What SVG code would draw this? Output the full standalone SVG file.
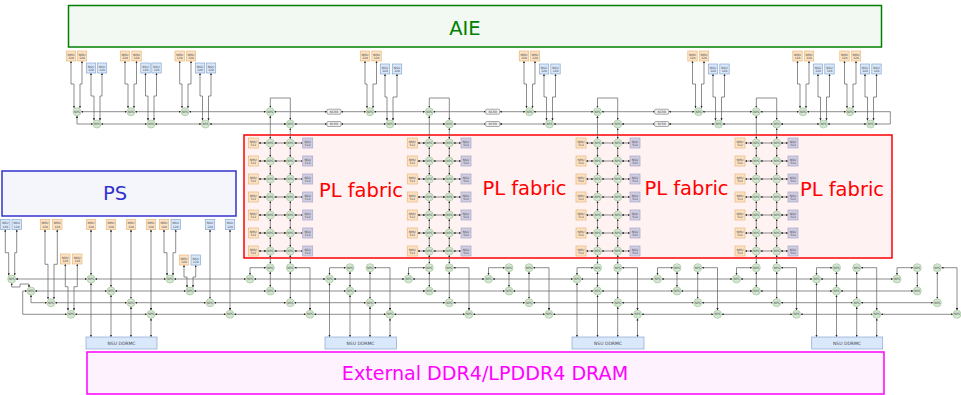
<svg xmlns="http://www.w3.org/2000/svg" width="961" height="395" viewBox="0 0 961 395">
<style>
text{font-family:"DejaVu Sans",sans-serif;text-anchor:middle;font-size:3px;fill:#444}
.big{font-size:19.5px}
.m{fill:#fde3c6;stroke:#e8b87a;stroke-width:.7}
.s{fill:#dae8fc;stroke:#8aa6cf;stroke-width:.7}
.f{fill:#d0cee2;stroke:#a9a6c8;stroke-width:.7}
.d{fill:#dae8fc;stroke:#8aa6cf;stroke-width:.7}
.b{fill:#f0f0f0;stroke:#888;stroke-width:.7}
circle{fill:#d5e8d4;stroke:#a3c49a;stroke-width:.7}
#c path{fill:none;stroke:#5c5c5c;stroke-width:.7;marker-start:url(#a);marker-end:url(#a)}
</style>
<defs><marker id="a" viewBox="0 0 4 4" refX="4" refY="2" markerWidth="2.2" markerHeight="2.2" markerUnits="userSpaceOnUse" orient="auto-start-reverse"><path d="M0 0L4 2L0 4z" fill="#222"/></marker></defs>
<rect width="961" height="395" fill="#fff"/>
<g id="aie"><rect x="68.500" y="5.500" width="813" height="41.500" fill="#f2f9f2" stroke="#008000" stroke-width="1.500"/><text class="big" x="465" y="34.500" style="fill:#008000">AIE</text></g>
<g id="ps"><rect x="2" y="171" width="234" height="45" fill="#f5f6fb" stroke="#3333cc" stroke-width="1.500"/><text class="big" x="115" y="200" style="fill:#3333cc">PS</text></g>
<g id="dram"><rect x="87" y="352" width="797" height="42" fill="#fff2ff" stroke="#ff00ff" stroke-width="1.500"/><text x="485" y="379.500" style="fill:#ff00ff;font-size:19.100px">External DDR4/LPDDR4 DRAM</text></g>
<g id="pl"><rect x="244" y="135" width="648" height="123" fill="#fff2f2" stroke="#ff0000" stroke-width="1.500"/><text class="big" x="361" y="197" style="fill:#ff0000">PL fabric</text><text class="big" x="524.500" y="195" style="fill:#ff0000">PL fabric</text><text class="big" x="686.500" y="195" style="fill:#ff0000">PL fabric</text><text class="big" x="842" y="196" style="fill:#ff0000">PL fabric</text></g>
<g id="c">
<path d="M71 61V84H74V108"/><path d="M82 61V84H80V108"/><path d="M91 73V96H94V120.500"/><path d="M102 73V96H100V120.500"/>
<path d="M125 61V84H128V108"/><path d="M136.500 61V84H134V108"/><path d="M145.500 73V96H148V120.500"/><path d="M156.500 73V96H154V120.500"/>
<path d="M179.700 61V84H182V108"/><path d="M191 61V84H188V108"/><path d="M200 73V96H202.500V120.500"/><path d="M211 73V96H208.500V120.500"/>
<path d="M365 61V84H367V108"/><path d="M376.500 61V84H373V108"/><path d="M385 74V97H387V120.500"/><path d="M397 74V97H393V120.500"/>
<path d="M524 61V84H526.500V108"/><path d="M535 61V84H532.500V108"/><path d="M544 74V97H546.500V120.500"/><path d="M555.500 74V97H552.500V120.500"/>
<path d="M692.500 61V84H695.500V108"/><path d="M704 61V84H701.500V108"/><path d="M713 74V97H715.500V120.500"/><path d="M724.500 74V97H721.500V120.500"/>
<path d="M797.500 61V84H800V108"/><path d="M809 61V84H806V108"/><path d="M818 74V97H820.500V120.500"/><path d="M829.500 74V97H826.500V120.500"/>
<path d="M844.500 61V84H847V108"/><path d="M856 61V84H853V108"/><path d="M865 74V97H867.500V120.500"/><path d="M876.500 74V97H873.500V120.500"/>
<path d="M81 111.700H127"/><path d="M135 111.700H181"/><path d="M189 111.700H266"/><path d="M274 111.700H327"/><path d="M341 111.700H366"/><path d="M374 111.700H425"/><path d="M433 111.700H485.700"/><path d="M499.700 111.700H525.500"/><path d="M533.500 111.700H593.500"/><path d="M601.500 111.700H654.700"/><path d="M668.700 111.700H694.500"/><path d="M702.500 111.700H752.300"/><path d="M760.300 111.700H799"/><path d="M807 111.700H846"/><path d="M854 111.700H890.300V124H874.500"/>
<path d="M101 124H147"/><path d="M155 124H201.500"/><path d="M209.500 124H286.300"/><path d="M294.300 124H327"/><path d="M341 124H386"/><path d="M394 124H445.300"/><path d="M453.300 124H485.700"/><path d="M499.700 124H545.500"/><path d="M553.500 124H613.700"/><path d="M621.700 124H654.700"/><path d="M668.700 124H714.500"/><path d="M722.500 124H772.700"/><path d="M780.700 124H819.500"/><path d="M827.500 124H866.500"/>
<path d="M77 115.700V124H93"/>
<path d="M270.300 107.700V98H290.300V120"/><path d="M429.300 107.700V98H449.300V120"/><path d="M597.500 107.700V98H617.700V120"/><path d="M756.300 107.700V98H776.700V120"/>
<path d="M270.300 115.700V139"/><path d="M290.300 128V139"/><path d="M429.300 115.700V139"/><path d="M449.300 128V139"/><path d="M597.500 115.700V139"/><path d="M617.700 128V139"/><path d="M756.300 115.700V139"/><path d="M776.700 128V139"/>
<path d="M270.300 147V157"/><path d="M270.300 165V175"/><path d="M270.300 183V193"/><path d="M270.300 201V211"/><path d="M270.300 219V229"/><path d="M270.300 237V247"/><path d="M270.300 255V263.700"/><path d="M270.300 271.700V287"/>
<path d="M290.300 147V157"/><path d="M290.300 165V175"/><path d="M290.300 183V193"/><path d="M290.300 201V211"/><path d="M290.300 219V229"/><path d="M290.300 237V247"/><path d="M290.300 255V263.700"/><path d="M290.300 271.700V298.700"/>
<path d="M429.300 147V157"/><path d="M429.300 165V175"/><path d="M429.300 183V193"/><path d="M429.300 201V211"/><path d="M429.300 219V229"/><path d="M429.300 237V247"/><path d="M429.300 255V263.700"/><path d="M429.300 271.700V287"/>
<path d="M449.300 147V157"/><path d="M449.300 165V175"/><path d="M449.300 183V193"/><path d="M449.300 201V211"/><path d="M449.300 219V229"/><path d="M449.300 237V247"/><path d="M449.300 255V263.700"/><path d="M449.300 271.700V298.700"/>
<path d="M597.500 147V157"/><path d="M597.500 165V175"/><path d="M597.500 183V193"/><path d="M597.500 201V211"/><path d="M597.500 219V229"/><path d="M597.500 237V247"/><path d="M597.500 255V263.700"/><path d="M597.500 271.700V287"/>
<path d="M617.700 147V157"/><path d="M617.700 165V175"/><path d="M617.700 183V193"/><path d="M617.700 201V211"/><path d="M617.700 219V229"/><path d="M617.700 237V247"/><path d="M617.700 255V263.700"/><path d="M617.700 271.700V298.700"/>
<path d="M756.300 147V157"/><path d="M756.300 165V175"/><path d="M756.300 183V193"/><path d="M756.300 201V211"/><path d="M756.300 219V229"/><path d="M756.300 237V247"/><path d="M756.300 255V263.700"/><path d="M756.300 271.700V287"/>
<path d="M776.700 147V157"/><path d="M776.700 165V175"/><path d="M776.700 183V193"/><path d="M776.700 201V211"/><path d="M776.700 219V229"/><path d="M776.700 237V247"/><path d="M776.700 255V263.700"/><path d="M776.700 271.700V298.700"/>
<path d="M258.500 143H266.300"/><path d="M274.300 143H286.300"/><path d="M294.300 143H302.700"/><path d="M258.500 161H266.300"/><path d="M274.300 161H286.300"/><path d="M294.300 161H302.700"/><path d="M258.500 179H266.300"/><path d="M274.300 179H286.300"/><path d="M294.300 179H302.700"/><path d="M258.500 197H266.300"/><path d="M274.300 197H286.300"/><path d="M294.300 197H302.700"/><path d="M258.500 215H266.300"/><path d="M274.300 215H286.300"/><path d="M294.300 215H302.700"/><path d="M258.500 233H266.300"/><path d="M274.300 233H286.300"/><path d="M294.300 233H302.700"/><path d="M258.500 251H266.300"/><path d="M274.300 251H286.300"/><path d="M294.300 251H302.700"/>
<path d="M417.500 143H425.300"/><path d="M433.300 143H445.300"/><path d="M453.300 143H461"/><path d="M417.500 161H425.300"/><path d="M433.300 161H445.300"/><path d="M453.300 161H461"/><path d="M417.500 179H425.300"/><path d="M433.300 179H445.300"/><path d="M453.300 179H461"/><path d="M417.500 197H425.300"/><path d="M433.300 197H445.300"/><path d="M453.300 197H461"/><path d="M417.500 215H425.300"/><path d="M433.300 215H445.300"/><path d="M453.300 215H461"/><path d="M417.500 233H425.300"/><path d="M433.300 233H445.300"/><path d="M453.300 233H461"/><path d="M417.500 251H425.300"/><path d="M433.300 251H445.300"/><path d="M453.300 251H461"/>
<path d="M586 143H593.500"/><path d="M601.500 143H613.700"/><path d="M621.700 143H630"/><path d="M586 161H593.500"/><path d="M601.500 161H613.700"/><path d="M621.700 161H630"/><path d="M586 179H593.500"/><path d="M601.500 179H613.700"/><path d="M621.700 179H630"/><path d="M586 197H593.500"/><path d="M601.500 197H613.700"/><path d="M621.700 197H630"/><path d="M586 215H593.500"/><path d="M601.500 215H613.700"/><path d="M621.700 215H630"/><path d="M586 233H593.500"/><path d="M601.500 233H613.700"/><path d="M621.700 233H630"/><path d="M586 251H593.500"/><path d="M601.500 251H613.700"/><path d="M621.700 251H630"/>
<path d="M745 143H752.300"/><path d="M760.300 143H772.700"/><path d="M780.700 143H788"/><path d="M745 161H752.300"/><path d="M760.300 161H772.700"/><path d="M780.700 161H788"/><path d="M745 179H752.300"/><path d="M760.300 179H772.700"/><path d="M780.700 179H788"/><path d="M745 197H752.300"/><path d="M760.300 197H772.700"/><path d="M780.700 197H788"/><path d="M745 215H752.300"/><path d="M760.300 215H772.700"/><path d="M780.700 215H788"/><path d="M745 233H752.300"/><path d="M760.300 233H772.700"/><path d="M780.700 233H788"/><path d="M745 251H752.300"/><path d="M760.300 251H772.700"/><path d="M780.700 251H788"/>
<path d="M266.300 267.700H250V275"/><path d="M294.300 267.700H310V310.300"/>
<path d="M346 267.700H329.500V275"/><path d="M374 267.700H390V310.300"/><path d="M350 271.700V287"/><path d="M370 271.700V298.700"/>
<path d="M425.300 267.700H408.500V275"/><path d="M453.300 267.700H469V310.300"/>
<path d="M505 267.700H488.500V275"/><path d="M533 267.700H549V310.300"/><path d="M509 271.700V287"/><path d="M529 271.700V298.700"/>
<path d="M593.500 267.700H577V275"/><path d="M621.700 267.700H637.500V310.300"/>
<path d="M673 267.700H657.500V275"/><path d="M701.700 267.700H717.500V310.300"/><path d="M677 271.700V287"/><path d="M697.700 271.700V298.700"/>
<path d="M752.300 267.700H736.500V275"/><path d="M780.700 267.700H796.500V310.300"/>
<path d="M832.500 267.700H816.500V275"/><path d="M860.700 267.700H876.700V310.300"/><path d="M836.500 271.700V287"/><path d="M856.700 271.700V298.700"/>
<path d="M913.300 267.700H897V275"/><path d="M941.300 267.700H957V310.300"/><path d="M917.300 271.700V287"/><path d="M937.300 271.700V298.700"/>
<path d="M15.700 279H87"/><path d="M95 279H166"/><path d="M174 279H246"/><path d="M254 279H325.500"/><path d="M333.500 279H404.500"/><path d="M412.500 279H484.500"/><path d="M492.500 279H573"/><path d="M581 279H653.500"/><path d="M661.500 279H732.500"/><path d="M740.500 279H812.500"/><path d="M820.500 279H893"/>
<path d="M35 291H107"/><path d="M115 291H186"/><path d="M194 291H266"/><path d="M274 291H346"/><path d="M354 291H425.300"/><path d="M433.300 291H505"/><path d="M513 291H593.500"/><path d="M601.500 291H673"/><path d="M681 291H752.300"/><path d="M760.300 291H832.500"/><path d="M840.500 291H913.300"/>
<path d="M55 302.700H127"/><path d="M135 302.700H206"/><path d="M214 302.700H286"/><path d="M294 302.700H366"/><path d="M374 302.700H445.300"/><path d="M453.300 302.700H525"/><path d="M533 302.700H613.700"/><path d="M621.700 302.700H693.700"/><path d="M701.700 302.700H772.700"/><path d="M780.700 302.700H852.700"/><path d="M860.700 302.700H933.300"/>
<path d="M75 314.300H147"/><path d="M155 314.300H226"/><path d="M234 314.300H306"/><path d="M314 314.300H386"/><path d="M394 314.300H465"/><path d="M473 314.300H545"/><path d="M553 314.300H633.500"/><path d="M641.500 314.300H713.500"/><path d="M721.500 314.300H792.500"/><path d="M800.500 314.300H872.700"/><path d="M880.700 314.300H953"/>
<path d="M11.700 283V287H20V284H29V287.500"/><path d="M27 291H22.700V314.300H67"/><path d="M31 295V302.700H47"/>
<path d="M5.300 229.500V252.700H8.700V275.500"/><path d="M16.700 229.500V252.700H14.700V275.500"/><path d="M45 229.500V264.300H48V299"/><path d="M57.300 229.500V264.300H54V299"/>
<path d="M65.300 264V286.700H68V310.500"/><path d="M77.300 264V286.700H74V310.500"/><path d="M164 229.500V252.700H167V275.500"/><path d="M175.700 229.500V252.700H173V275.500"/>
<path d="M184 265V277H187V287.500"/><path d="M195.700 265V277H193V287.500"/>
<path d="M91 229.500V275"/><path d="M111 229.500V287"/><path d="M131 229.500V298.700"/><path d="M151 229.500V310.300"/><path d="M210 229.500V298.700"/><path d="M230 229.500V310.300"/>
<path d="M91 283V337"/><path d="M111 295V337"/><path d="M131 306.700V337"/><path d="M151 318.300V337"/>
<path d="M329.500 283V337"/><path d="M350 295V337"/><path d="M370 306.700V337"/><path d="M390 318.300V337"/>
<path d="M577 283V337"/><path d="M597.500 295V337"/><path d="M617.700 306.700V337"/><path d="M637.500 318.300V337"/>
<path d="M816.500 283V337"/><path d="M836.500 295V337"/><path d="M856.700 306.700V337"/><path d="M876.700 318.300V337"/>
</g>
<g id="ncrb1a" transform="translate(334 111.700)"><rect class="b" x="-7" y="-2.500" width="14" height="5" rx="1"/><text y="1">NCRB</text></g>
<g id="ncrb1b" transform="translate(334 124)"><rect class="b" x="-7" y="-2.500" width="14" height="5" rx="1"/><text y="1">NCRB</text></g>
<g id="ncrb2a" transform="translate(492.700 111.700)"><rect class="b" x="-7" y="-2.500" width="14" height="5" rx="1"/><text y="1">NCRB</text></g>
<g id="ncrb2b" transform="translate(492.700 124)"><rect class="b" x="-7" y="-2.500" width="14" height="5" rx="1"/><text y="1">NCRB</text></g>
<g id="ncrb3a" transform="translate(661.700 111.700)"><rect class="b" x="-7" y="-2.500" width="14" height="5" rx="1"/><text y="1">NCRB</text></g>
<g id="ncrb3b" transform="translate(661.700 124)"><rect class="b" x="-7" y="-2.500" width="14" height="5" rx="1"/><text y="1">NCRB</text></g>
<g id="ddr1"><rect class="d" x="86" y="337" width="71" height="12"/><text x="121.500" y="344.500" style="font-size:4.500px">NSU DDRMC</text></g>
<g id="ddr2"><rect class="d" x="325" y="337" width="71.500" height="12"/><text x="360.500" y="344.500" style="font-size:4.500px">NSU DDRMC</text></g>
<g id="ddr3"><rect class="d" x="572" y="337" width="72" height="12"/><text x="608" y="344.500" style="font-size:4.500px">NSU DDRMC</text></g>
<g id="ddr4"><rect class="d" x="811.700" y="337" width="71" height="12"/><text x="847" y="344.500" style="font-size:4.500px">NSU DDRMC</text></g>
<g id="tm1" transform="translate(71 56)"><rect class="m" x="-4.700" y="-5" width="9.400" height="10"/><text y="-.500">NMU</text><text y="3">128</text></g>
<g id="tm2" transform="translate(82 56)"><rect class="m" x="-4.700" y="-5" width="9.400" height="10"/><text y="-.500">NMU</text><text y="3">128</text></g>
<g id="ts1" transform="translate(91 68)"><rect class="s" x="-4.700" y="-5" width="9.400" height="10"/><text y="-.500">NSU</text><text y="3">128</text></g>
<g id="ts2" transform="translate(102 68)"><rect class="s" x="-4.700" y="-5" width="9.400" height="10"/><text y="-.500">NSU</text><text y="3">128</text></g>
<g id="tm3" transform="translate(125 56)"><rect class="m" x="-4.700" y="-5" width="9.400" height="10"/><text y="-.500">NMU</text><text y="3">128</text></g>
<g id="tm4" transform="translate(136.500 56)"><rect class="m" x="-4.700" y="-5" width="9.400" height="10"/><text y="-.500">NMU</text><text y="3">128</text></g>
<g id="ts3" transform="translate(145.500 68)"><rect class="s" x="-4.700" y="-5" width="9.400" height="10"/><text y="-.500">NSU</text><text y="3">128</text></g>
<g id="ts4" transform="translate(156.500 68)"><rect class="s" x="-4.700" y="-5" width="9.400" height="10"/><text y="-.500">NSU</text><text y="3">128</text></g>
<g id="tm5" transform="translate(179.700 56)"><rect class="m" x="-4.700" y="-5" width="9.400" height="10"/><text y="-.500">NMU</text><text y="3">128</text></g>
<g id="tm6" transform="translate(191 56)"><rect class="m" x="-4.700" y="-5" width="9.400" height="10"/><text y="-.500">NMU</text><text y="3">128</text></g>
<g id="ts5" transform="translate(200 68)"><rect class="s" x="-4.700" y="-5" width="9.400" height="10"/><text y="-.500">NSU</text><text y="3">128</text></g>
<g id="ts6" transform="translate(211 68)"><rect class="s" x="-4.700" y="-5" width="9.400" height="10"/><text y="-.500">NSU</text><text y="3">128</text></g>
<g id="tm7" transform="translate(365 56)"><rect class="m" x="-4.700" y="-5" width="9.400" height="10"/><text y="-.500">NMU</text><text y="3">128</text></g>
<g id="tm8" transform="translate(376.500 56)"><rect class="m" x="-4.700" y="-5" width="9.400" height="10"/><text y="-.500">NMU</text><text y="3">128</text></g>
<g id="ts7" transform="translate(385 69)"><rect class="s" x="-4.700" y="-5" width="9.400" height="10"/><text y="-.500">NSU</text><text y="3">128</text></g>
<g id="ts8" transform="translate(397 69)"><rect class="s" x="-4.700" y="-5" width="9.400" height="10"/><text y="-.500">NSU</text><text y="3">128</text></g>
<g id="tm9" transform="translate(524 56)"><rect class="m" x="-4.700" y="-5" width="9.400" height="10"/><text y="-.500">NMU</text><text y="3">128</text></g>
<g id="tm10" transform="translate(535 56)"><rect class="m" x="-4.700" y="-5" width="9.400" height="10"/><text y="-.500">NMU</text><text y="3">128</text></g>
<g id="ts9" transform="translate(544 69)"><rect class="s" x="-4.700" y="-5" width="9.400" height="10"/><text y="-.500">NSU</text><text y="3">128</text></g>
<g id="ts10" transform="translate(555.500 69)"><rect class="s" x="-4.700" y="-5" width="9.400" height="10"/><text y="-.500">NSU</text><text y="3">128</text></g>
<g id="tm11" transform="translate(692.500 56)"><rect class="m" x="-4.700" y="-5" width="9.400" height="10"/><text y="-.500">NMU</text><text y="3">128</text></g>
<g id="tm12" transform="translate(704 56)"><rect class="m" x="-4.700" y="-5" width="9.400" height="10"/><text y="-.500">NMU</text><text y="3">128</text></g>
<g id="ts11" transform="translate(713 69)"><rect class="s" x="-4.700" y="-5" width="9.400" height="10"/><text y="-.500">NSU</text><text y="3">128</text></g>
<g id="ts12" transform="translate(724.500 69)"><rect class="s" x="-4.700" y="-5" width="9.400" height="10"/><text y="-.500">NSU</text><text y="3">128</text></g>
<g id="tm13" transform="translate(797.500 56)"><rect class="m" x="-4.700" y="-5" width="9.400" height="10"/><text y="-.500">NMU</text><text y="3">128</text></g>
<g id="tm14" transform="translate(809 56)"><rect class="m" x="-4.700" y="-5" width="9.400" height="10"/><text y="-.500">NMU</text><text y="3">128</text></g>
<g id="ts13" transform="translate(818 69)"><rect class="s" x="-4.700" y="-5" width="9.400" height="10"/><text y="-.500">NSU</text><text y="3">128</text></g>
<g id="ts14" transform="translate(829.500 69)"><rect class="s" x="-4.700" y="-5" width="9.400" height="10"/><text y="-.500">NSU</text><text y="3">128</text></g>
<g id="tm15" transform="translate(844.500 56)"><rect class="m" x="-4.700" y="-5" width="9.400" height="10"/><text y="-.500">NMU</text><text y="3">128</text></g>
<g id="tm16" transform="translate(856 56)"><rect class="m" x="-4.700" y="-5" width="9.400" height="10"/><text y="-.500">NMU</text><text y="3">128</text></g>
<g id="ts15" transform="translate(865 69)"><rect class="s" x="-4.700" y="-5" width="9.400" height="10"/><text y="-.500">NSU</text><text y="3">128</text></g>
<g id="ts16" transform="translate(876.500 69)"><rect class="s" x="-4.700" y="-5" width="9.400" height="10"/><text y="-.500">NSU</text><text y="3">128</text></g>
<g id="bs1" transform="translate(5.300 224.500)"><rect class="s" x="-4.700" y="-5" width="9.400" height="10"/><text y="-.500">NSU</text><text y="3">128</text></g>
<g id="bs2" transform="translate(16.700 224.500)"><rect class="s" x="-4.700" y="-5" width="9.400" height="10"/><text y="-.500">NSU</text><text y="3">128</text></g>
<g id="bm1" transform="translate(45 224.500)"><rect class="m" x="-4.700" y="-5" width="9.400" height="10"/><text y="-.500">NMU</text><text y="3">128</text></g>
<g id="bm2" transform="translate(57.300 224.500)"><rect class="m" x="-4.700" y="-5" width="9.400" height="10"/><text y="-.500">NMU</text><text y="3">128</text></g>
<g id="bm3" transform="translate(91 224.500)"><rect class="m" x="-4.700" y="-5" width="9.400" height="10"/><text y="-.500">NMU</text><text y="3">128</text></g>
<g id="bm4" transform="translate(111 224.500)"><rect class="m" x="-4.700" y="-5" width="9.400" height="10"/><text y="-.500">NMU</text><text y="3">128</text></g>
<g id="bm5" transform="translate(131 224.500)"><rect class="m" x="-4.700" y="-5" width="9.400" height="10"/><text y="-.500">NMU</text><text y="3">128</text></g>
<g id="bm6" transform="translate(151 224.500)"><rect class="m" x="-4.700" y="-5" width="9.400" height="10"/><text y="-.500">NMU</text><text y="3">128</text></g>
<g id="bm7" transform="translate(164 224.500)"><rect class="m" x="-4.700" y="-5" width="9.400" height="10"/><text y="-.500">NMU</text><text y="3">128</text></g>
<g id="bs3" transform="translate(175.700 224.500)"><rect class="s" x="-4.700" y="-5" width="9.400" height="10"/><text y="-.500">NSU</text><text y="3">128</text></g>
<g id="bs4" transform="translate(210 224.500)"><rect class="s" x="-4.700" y="-5" width="9.400" height="10"/><text y="-.500">NSU</text><text y="3">128</text></g>
<g id="bs5" transform="translate(230 224.500)"><rect class="s" x="-4.700" y="-5" width="9.400" height="10"/><text y="-.500">NSU</text><text y="3">128</text></g>
<g id="bm8" transform="translate(65.300 259)"><rect class="m" x="-4.700" y="-5" width="9.400" height="10"/><text y="-.500">NMU</text><text y="3">128</text></g>
<g id="bm9" transform="translate(77.300 259)"><rect class="m" x="-4.700" y="-5" width="9.400" height="10"/><text y="-.500">NMU</text><text y="3">128</text></g>
<g id="bm10" transform="translate(184 260)"><rect class="m" x="-4.700" y="-5" width="9.400" height="10"/><text y="-.500">NMU</text><text y="3">128</text></g>
<g id="bs6" transform="translate(195.700 260)"><rect class="s" x="-4.700" y="-5" width="9.400" height="10"/><text y="-.500">NSU</text><text y="3">128</text></g>
<g id="fm11" transform="translate(253.300 143)"><rect class="m" x="-5" y="-5" width="10" height="10"/><text y="-.500">NMU</text><text y="3">512</text></g>
<g id="fm12" transform="translate(253.300 161)"><rect class="m" x="-5" y="-5" width="10" height="10"/><text y="-.500">NMU</text><text y="3">512</text></g>
<g id="fm13" transform="translate(253.300 179)"><rect class="m" x="-5" y="-5" width="10" height="10"/><text y="-.500">NMU</text><text y="3">512</text></g>
<g id="fm14" transform="translate(253.300 197)"><rect class="m" x="-5" y="-5" width="10" height="10"/><text y="-.500">NMU</text><text y="3">512</text></g>
<g id="fm15" transform="translate(253.300 215)"><rect class="m" x="-5" y="-5" width="10" height="10"/><text y="-.500">NMU</text><text y="3">512</text></g>
<g id="fm16" transform="translate(253.300 233)"><rect class="m" x="-5" y="-5" width="10" height="10"/><text y="-.500">NMU</text><text y="3">512</text></g>
<g id="fm17" transform="translate(253.300 251)"><rect class="m" x="-5" y="-5" width="10" height="10"/><text y="-.500">NMU</text><text y="3">512</text></g>
<g id="fs11" transform="translate(307.700 143)"><rect class="f" x="-5" y="-5" width="10" height="10"/><text y="-.500">NSU</text><text y="3">512</text></g>
<g id="fs12" transform="translate(307.700 161)"><rect class="f" x="-5" y="-5" width="10" height="10"/><text y="-.500">NSU</text><text y="3">512</text></g>
<g id="fs13" transform="translate(307.700 179)"><rect class="f" x="-5" y="-5" width="10" height="10"/><text y="-.500">NSU</text><text y="3">512</text></g>
<g id="fs14" transform="translate(307.700 197)"><rect class="f" x="-5" y="-5" width="10" height="10"/><text y="-.500">NSU</text><text y="3">512</text></g>
<g id="fs15" transform="translate(307.700 215)"><rect class="f" x="-5" y="-5" width="10" height="10"/><text y="-.500">NSU</text><text y="3">512</text></g>
<g id="fs16" transform="translate(307.700 233)"><rect class="f" x="-5" y="-5" width="10" height="10"/><text y="-.500">NSU</text><text y="3">512</text></g>
<g id="fs17" transform="translate(307.700 251)"><rect class="f" x="-5" y="-5" width="10" height="10"/><text y="-.500">NSU</text><text y="3">512</text></g>
<g id="fm21" transform="translate(412.300 143)"><rect class="m" x="-5" y="-5" width="10" height="10"/><text y="-.500">NMU</text><text y="3">512</text></g>
<g id="fm22" transform="translate(412.300 161)"><rect class="m" x="-5" y="-5" width="10" height="10"/><text y="-.500">NMU</text><text y="3">512</text></g>
<g id="fm23" transform="translate(412.300 179)"><rect class="m" x="-5" y="-5" width="10" height="10"/><text y="-.500">NMU</text><text y="3">512</text></g>
<g id="fm24" transform="translate(412.300 197)"><rect class="m" x="-5" y="-5" width="10" height="10"/><text y="-.500">NMU</text><text y="3">512</text></g>
<g id="fm25" transform="translate(412.300 215)"><rect class="m" x="-5" y="-5" width="10" height="10"/><text y="-.500">NMU</text><text y="3">512</text></g>
<g id="fm26" transform="translate(412.300 233)"><rect class="m" x="-5" y="-5" width="10" height="10"/><text y="-.500">NMU</text><text y="3">512</text></g>
<g id="fm27" transform="translate(412.300 251)"><rect class="m" x="-5" y="-5" width="10" height="10"/><text y="-.500">NMU</text><text y="3">512</text></g>
<g id="fs21" transform="translate(466 143)"><rect class="f" x="-5" y="-5" width="10" height="10"/><text y="-.500">NSU</text><text y="3">512</text></g>
<g id="fs22" transform="translate(466 161)"><rect class="f" x="-5" y="-5" width="10" height="10"/><text y="-.500">NSU</text><text y="3">512</text></g>
<g id="fs23" transform="translate(466 179)"><rect class="f" x="-5" y="-5" width="10" height="10"/><text y="-.500">NSU</text><text y="3">512</text></g>
<g id="fs24" transform="translate(466 197)"><rect class="f" x="-5" y="-5" width="10" height="10"/><text y="-.500">NSU</text><text y="3">512</text></g>
<g id="fs25" transform="translate(466 215)"><rect class="f" x="-5" y="-5" width="10" height="10"/><text y="-.500">NSU</text><text y="3">512</text></g>
<g id="fs26" transform="translate(466 233)"><rect class="f" x="-5" y="-5" width="10" height="10"/><text y="-.500">NSU</text><text y="3">512</text></g>
<g id="fs27" transform="translate(466 251)"><rect class="f" x="-5" y="-5" width="10" height="10"/><text y="-.500">NSU</text><text y="3">512</text></g>
<g id="fm31" transform="translate(581 143)"><rect class="m" x="-5" y="-5" width="10" height="10"/><text y="-.500">NMU</text><text y="3">512</text></g>
<g id="fm32" transform="translate(581 161)"><rect class="m" x="-5" y="-5" width="10" height="10"/><text y="-.500">NMU</text><text y="3">512</text></g>
<g id="fm33" transform="translate(581 179)"><rect class="m" x="-5" y="-5" width="10" height="10"/><text y="-.500">NMU</text><text y="3">512</text></g>
<g id="fm34" transform="translate(581 197)"><rect class="m" x="-5" y="-5" width="10" height="10"/><text y="-.500">NMU</text><text y="3">512</text></g>
<g id="fm35" transform="translate(581 215)"><rect class="m" x="-5" y="-5" width="10" height="10"/><text y="-.500">NMU</text><text y="3">512</text></g>
<g id="fm36" transform="translate(581 233)"><rect class="m" x="-5" y="-5" width="10" height="10"/><text y="-.500">NMU</text><text y="3">512</text></g>
<g id="fm37" transform="translate(581 251)"><rect class="m" x="-5" y="-5" width="10" height="10"/><text y="-.500">NMU</text><text y="3">512</text></g>
<g id="fs31" transform="translate(635 143)"><rect class="f" x="-5" y="-5" width="10" height="10"/><text y="-.500">NSU</text><text y="3">512</text></g>
<g id="fs32" transform="translate(635 161)"><rect class="f" x="-5" y="-5" width="10" height="10"/><text y="-.500">NSU</text><text y="3">512</text></g>
<g id="fs33" transform="translate(635 179)"><rect class="f" x="-5" y="-5" width="10" height="10"/><text y="-.500">NSU</text><text y="3">512</text></g>
<g id="fs34" transform="translate(635 197)"><rect class="f" x="-5" y="-5" width="10" height="10"/><text y="-.500">NSU</text><text y="3">512</text></g>
<g id="fs35" transform="translate(635 215)"><rect class="f" x="-5" y="-5" width="10" height="10"/><text y="-.500">NSU</text><text y="3">512</text></g>
<g id="fs36" transform="translate(635 233)"><rect class="f" x="-5" y="-5" width="10" height="10"/><text y="-.500">NSU</text><text y="3">512</text></g>
<g id="fs37" transform="translate(635 251)"><rect class="f" x="-5" y="-5" width="10" height="10"/><text y="-.500">NSU</text><text y="3">512</text></g>
<g id="fm41" transform="translate(740 143)"><rect class="m" x="-5" y="-5" width="10" height="10"/><text y="-.500">NMU</text><text y="3">512</text></g>
<g id="fm42" transform="translate(740 161)"><rect class="m" x="-5" y="-5" width="10" height="10"/><text y="-.500">NMU</text><text y="3">512</text></g>
<g id="fm43" transform="translate(740 179)"><rect class="m" x="-5" y="-5" width="10" height="10"/><text y="-.500">NMU</text><text y="3">512</text></g>
<g id="fm44" transform="translate(740 197)"><rect class="m" x="-5" y="-5" width="10" height="10"/><text y="-.500">NMU</text><text y="3">512</text></g>
<g id="fm45" transform="translate(740 215)"><rect class="m" x="-5" y="-5" width="10" height="10"/><text y="-.500">NMU</text><text y="3">512</text></g>
<g id="fm46" transform="translate(740 233)"><rect class="m" x="-5" y="-5" width="10" height="10"/><text y="-.500">NMU</text><text y="3">512</text></g>
<g id="fm47" transform="translate(740 251)"><rect class="m" x="-5" y="-5" width="10" height="10"/><text y="-.500">NMU</text><text y="3">512</text></g>
<g id="fs41" transform="translate(793 143)"><rect class="f" x="-5" y="-5" width="10" height="10"/><text y="-.500">NSU</text><text y="3">512</text></g>
<g id="fs42" transform="translate(793 161)"><rect class="f" x="-5" y="-5" width="10" height="10"/><text y="-.500">NSU</text><text y="3">512</text></g>
<g id="fs43" transform="translate(793 179)"><rect class="f" x="-5" y="-5" width="10" height="10"/><text y="-.500">NSU</text><text y="3">512</text></g>
<g id="fs44" transform="translate(793 197)"><rect class="f" x="-5" y="-5" width="10" height="10"/><text y="-.500">NSU</text><text y="3">512</text></g>
<g id="fs45" transform="translate(793 215)"><rect class="f" x="-5" y="-5" width="10" height="10"/><text y="-.500">NSU</text><text y="3">512</text></g>
<g id="fs46" transform="translate(793 233)"><rect class="f" x="-5" y="-5" width="10" height="10"/><text y="-.500">NSU</text><text y="3">512</text></g>
<g id="fs47" transform="translate(793 251)"><rect class="f" x="-5" y="-5" width="10" height="10"/><text y="-.500">NSU</text><text y="3">512</text></g>
<g id="p1" transform="translate(77 111.700)"><circle r="4"/><text y="1">NPS</text></g>
<g id="p2" transform="translate(131 111.700)"><circle r="4"/><text y="1">NPS</text></g>
<g id="p3" transform="translate(185 111.700)"><circle r="4"/><text y="1">NPS</text></g>
<g id="p4" transform="translate(270.300 111.700)"><circle r="4"/><text y="1">NPS</text></g>
<g id="p5" transform="translate(370 111.700)"><circle r="4"/><text y="1">NPS</text></g>
<g id="p6" transform="translate(429.300 111.700)"><circle r="4"/><text y="1">NPS</text></g>
<g id="p7" transform="translate(529.500 111.700)"><circle r="4"/><text y="1">NPS</text></g>
<g id="p8" transform="translate(597.500 111.700)"><circle r="4"/><text y="1">NPS</text></g>
<g id="p9" transform="translate(698.500 111.700)"><circle r="4"/><text y="1">NPS</text></g>
<g id="p10" transform="translate(756.300 111.700)"><circle r="4"/><text y="1">NPS</text></g>
<g id="p11" transform="translate(803 111.700)"><circle r="4"/><text y="1">NPS</text></g>
<g id="p12" transform="translate(850 111.700)"><circle r="4"/><text y="1">NPS</text></g>
<g id="p13" transform="translate(97 124)"><circle r="4"/><text y="1">NPS</text></g>
<g id="p14" transform="translate(151 124)"><circle r="4"/><text y="1">NPS</text></g>
<g id="p15" transform="translate(205.500 124)"><circle r="4"/><text y="1">NPS</text></g>
<g id="p16" transform="translate(290.300 124)"><circle r="4"/><text y="1">NPS</text></g>
<g id="p17" transform="translate(390 124)"><circle r="4"/><text y="1">NPS</text></g>
<g id="p18" transform="translate(449.300 124)"><circle r="4"/><text y="1">NPS</text></g>
<g id="p19" transform="translate(549.500 124)"><circle r="4"/><text y="1">NPS</text></g>
<g id="p20" transform="translate(617.700 124)"><circle r="4"/><text y="1">NPS</text></g>
<g id="p21" transform="translate(718.500 124)"><circle r="4"/><text y="1">NPS</text></g>
<g id="p22" transform="translate(776.700 124)"><circle r="4"/><text y="1">NPS</text></g>
<g id="p23" transform="translate(823.500 124)"><circle r="4"/><text y="1">NPS</text></g>
<g id="p24" transform="translate(870.500 124)"><circle r="4"/><text y="1">NPS</text></g>
<g id="f1a1" transform="translate(270.300 143)"><circle r="4"/><text y="1">NPS</text></g>
<g id="f1b1" transform="translate(290.300 143)"><circle r="4"/><text y="1">NPS</text></g>
<g id="f1a2" transform="translate(270.300 161)"><circle r="4"/><text y="1">NPS</text></g>
<g id="f1b2" transform="translate(290.300 161)"><circle r="4"/><text y="1">NPS</text></g>
<g id="f1a3" transform="translate(270.300 179)"><circle r="4"/><text y="1">NPS</text></g>
<g id="f1b3" transform="translate(290.300 179)"><circle r="4"/><text y="1">NPS</text></g>
<g id="f1a4" transform="translate(270.300 197)"><circle r="4"/><text y="1">NPS</text></g>
<g id="f1b4" transform="translate(290.300 197)"><circle r="4"/><text y="1">NPS</text></g>
<g id="f1a5" transform="translate(270.300 215)"><circle r="4"/><text y="1">NPS</text></g>
<g id="f1b5" transform="translate(290.300 215)"><circle r="4"/><text y="1">NPS</text></g>
<g id="f1a6" transform="translate(270.300 233)"><circle r="4"/><text y="1">NPS</text></g>
<g id="f1b6" transform="translate(290.300 233)"><circle r="4"/><text y="1">NPS</text></g>
<g id="f1a7" transform="translate(270.300 251)"><circle r="4"/><text y="1">NPS</text></g>
<g id="f1b7" transform="translate(290.300 251)"><circle r="4"/><text y="1">NPS</text></g>
<g id="f2a1" transform="translate(429.300 143)"><circle r="4"/><text y="1">NPS</text></g>
<g id="f2b1" transform="translate(449.300 143)"><circle r="4"/><text y="1">NPS</text></g>
<g id="f2a2" transform="translate(429.300 161)"><circle r="4"/><text y="1">NPS</text></g>
<g id="f2b2" transform="translate(449.300 161)"><circle r="4"/><text y="1">NPS</text></g>
<g id="f2a3" transform="translate(429.300 179)"><circle r="4"/><text y="1">NPS</text></g>
<g id="f2b3" transform="translate(449.300 179)"><circle r="4"/><text y="1">NPS</text></g>
<g id="f2a4" transform="translate(429.300 197)"><circle r="4"/><text y="1">NPS</text></g>
<g id="f2b4" transform="translate(449.300 197)"><circle r="4"/><text y="1">NPS</text></g>
<g id="f2a5" transform="translate(429.300 215)"><circle r="4"/><text y="1">NPS</text></g>
<g id="f2b5" transform="translate(449.300 215)"><circle r="4"/><text y="1">NPS</text></g>
<g id="f2a6" transform="translate(429.300 233)"><circle r="4"/><text y="1">NPS</text></g>
<g id="f2b6" transform="translate(449.300 233)"><circle r="4"/><text y="1">NPS</text></g>
<g id="f2a7" transform="translate(429.300 251)"><circle r="4"/><text y="1">NPS</text></g>
<g id="f2b7" transform="translate(449.300 251)"><circle r="4"/><text y="1">NPS</text></g>
<g id="f3a1" transform="translate(597.500 143)"><circle r="4"/><text y="1">NPS</text></g>
<g id="f3b1" transform="translate(617.700 143)"><circle r="4"/><text y="1">NPS</text></g>
<g id="f3a2" transform="translate(597.500 161)"><circle r="4"/><text y="1">NPS</text></g>
<g id="f3b2" transform="translate(617.700 161)"><circle r="4"/><text y="1">NPS</text></g>
<g id="f3a3" transform="translate(597.500 179)"><circle r="4"/><text y="1">NPS</text></g>
<g id="f3b3" transform="translate(617.700 179)"><circle r="4"/><text y="1">NPS</text></g>
<g id="f3a4" transform="translate(597.500 197)"><circle r="4"/><text y="1">NPS</text></g>
<g id="f3b4" transform="translate(617.700 197)"><circle r="4"/><text y="1">NPS</text></g>
<g id="f3a5" transform="translate(597.500 215)"><circle r="4"/><text y="1">NPS</text></g>
<g id="f3b5" transform="translate(617.700 215)"><circle r="4"/><text y="1">NPS</text></g>
<g id="f3a6" transform="translate(597.500 233)"><circle r="4"/><text y="1">NPS</text></g>
<g id="f3b6" transform="translate(617.700 233)"><circle r="4"/><text y="1">NPS</text></g>
<g id="f3a7" transform="translate(597.500 251)"><circle r="4"/><text y="1">NPS</text></g>
<g id="f3b7" transform="translate(617.700 251)"><circle r="4"/><text y="1">NPS</text></g>
<g id="f4a1" transform="translate(756.300 143)"><circle r="4"/><text y="1">NPS</text></g>
<g id="f4b1" transform="translate(776.700 143)"><circle r="4"/><text y="1">NPS</text></g>
<g id="f4a2" transform="translate(756.300 161)"><circle r="4"/><text y="1">NPS</text></g>
<g id="f4b2" transform="translate(776.700 161)"><circle r="4"/><text y="1">NPS</text></g>
<g id="f4a3" transform="translate(756.300 179)"><circle r="4"/><text y="1">NPS</text></g>
<g id="f4b3" transform="translate(776.700 179)"><circle r="4"/><text y="1">NPS</text></g>
<g id="f4a4" transform="translate(756.300 197)"><circle r="4"/><text y="1">NPS</text></g>
<g id="f4b4" transform="translate(776.700 197)"><circle r="4"/><text y="1">NPS</text></g>
<g id="f4a5" transform="translate(756.300 215)"><circle r="4"/><text y="1">NPS</text></g>
<g id="f4b5" transform="translate(776.700 215)"><circle r="4"/><text y="1">NPS</text></g>
<g id="f4a6" transform="translate(756.300 233)"><circle r="4"/><text y="1">NPS</text></g>
<g id="f4b6" transform="translate(776.700 233)"><circle r="4"/><text y="1">NPS</text></g>
<g id="f4a7" transform="translate(756.300 251)"><circle r="4"/><text y="1">NPS</text></g>
<g id="f4b7" transform="translate(776.700 251)"><circle r="4"/><text y="1">NPS</text></g>
<g id="u1" transform="translate(270.300 267.700)"><circle r="4"/><text y="1">NPS</text></g>
<g id="u2" transform="translate(290.300 267.700)"><circle r="4"/><text y="1">NPS</text></g>
<g id="u3" transform="translate(350 267.700)"><circle r="4"/><text y="1">NPS</text></g>
<g id="u4" transform="translate(370 267.700)"><circle r="4"/><text y="1">NPS</text></g>
<g id="u5" transform="translate(429.300 267.700)"><circle r="4"/><text y="1">NPS</text></g>
<g id="u6" transform="translate(449.300 267.700)"><circle r="4"/><text y="1">NPS</text></g>
<g id="u7" transform="translate(509 267.700)"><circle r="4"/><text y="1">NPS</text></g>
<g id="u8" transform="translate(529 267.700)"><circle r="4"/><text y="1">NPS</text></g>
<g id="u9" transform="translate(597.500 267.700)"><circle r="4"/><text y="1">NPS</text></g>
<g id="u10" transform="translate(617.700 267.700)"><circle r="4"/><text y="1">NPS</text></g>
<g id="u11" transform="translate(677 267.700)"><circle r="4"/><text y="1">NPS</text></g>
<g id="u12" transform="translate(697.700 267.700)"><circle r="4"/><text y="1">NPS</text></g>
<g id="u13" transform="translate(756.300 267.700)"><circle r="4"/><text y="1">NPS</text></g>
<g id="u14" transform="translate(776.700 267.700)"><circle r="4"/><text y="1">NPS</text></g>
<g id="u15" transform="translate(836.500 267.700)"><circle r="4"/><text y="1">NPS</text></g>
<g id="u16" transform="translate(856.700 267.700)"><circle r="4"/><text y="1">NPS</text></g>
<g id="u17" transform="translate(917.300 267.700)"><circle r="4"/><text y="1">NPS</text></g>
<g id="u18" transform="translate(937.300 267.700)"><circle r="4"/><text y="1">NPS</text></g>
<g id="r1a" transform="translate(11.700 279)"><circle r="4"/><text y="1">NPS</text></g>
<g id="r1b" transform="translate(91 279)"><circle r="4"/><text y="1">NPS</text></g>
<g id="r1c" transform="translate(170 279)"><circle r="4"/><text y="1">NPS</text></g>
<g id="r1d" transform="translate(250 279)"><circle r="4"/><text y="1">NPS</text></g>
<g id="r1e" transform="translate(329.500 279)"><circle r="4"/><text y="1">NPS</text></g>
<g id="r1f" transform="translate(408.500 279)"><circle r="4"/><text y="1">NPS</text></g>
<g id="r1g" transform="translate(488.500 279)"><circle r="4"/><text y="1">NPS</text></g>
<g id="r1h" transform="translate(577 279)"><circle r="4"/><text y="1">NPS</text></g>
<g id="r1i" transform="translate(657.500 279)"><circle r="4"/><text y="1">NPS</text></g>
<g id="r1j" transform="translate(736.500 279)"><circle r="4"/><text y="1">NPS</text></g>
<g id="r1k" transform="translate(816.500 279)"><circle r="4"/><text y="1">NPS</text></g>
<g id="r1l" transform="translate(897 279)"><circle r="4"/><text y="1">NPS</text></g>
<g id="r2a" transform="translate(31 291)"><circle r="4"/><text y="1">NPS</text></g>
<g id="r2b" transform="translate(111 291)"><circle r="4"/><text y="1">NPS</text></g>
<g id="r2c" transform="translate(190 291)"><circle r="4"/><text y="1">NPS</text></g>
<g id="r2d" transform="translate(270.300 291)"><circle r="4"/><text y="1">NPS</text></g>
<g id="r2e" transform="translate(350 291)"><circle r="4"/><text y="1">NPS</text></g>
<g id="r2f" transform="translate(429.300 291)"><circle r="4"/><text y="1">NPS</text></g>
<g id="r2g" transform="translate(509 291)"><circle r="4"/><text y="1">NPS</text></g>
<g id="r2h" transform="translate(597.500 291)"><circle r="4"/><text y="1">NPS</text></g>
<g id="r2i" transform="translate(677 291)"><circle r="4"/><text y="1">NPS</text></g>
<g id="r2j" transform="translate(756.300 291)"><circle r="4"/><text y="1">NPS</text></g>
<g id="r2k" transform="translate(836.500 291)"><circle r="4"/><text y="1">NPS</text></g>
<g id="r2l" transform="translate(917.300 291)"><circle r="4"/><text y="1">NPS</text></g>
<g id="r3a" transform="translate(51 302.700)"><circle r="4"/><text y="1">NPS</text></g>
<g id="r3b" transform="translate(131 302.700)"><circle r="4"/><text y="1">NPS</text></g>
<g id="r3c" transform="translate(210 302.700)"><circle r="4"/><text y="1">NPS</text></g>
<g id="r3d" transform="translate(290.300 302.700)"><circle r="4"/><text y="1">NPS</text></g>
<g id="r3e" transform="translate(370 302.700)"><circle r="4"/><text y="1">NPS</text></g>
<g id="r3f" transform="translate(449.300 302.700)"><circle r="4"/><text y="1">NPS</text></g>
<g id="r3g" transform="translate(529 302.700)"><circle r="4"/><text y="1">NPS</text></g>
<g id="r3h" transform="translate(617.700 302.700)"><circle r="4"/><text y="1">NPS</text></g>
<g id="r3i" transform="translate(697.700 302.700)"><circle r="4"/><text y="1">NPS</text></g>
<g id="r3j" transform="translate(776.700 302.700)"><circle r="4"/><text y="1">NPS</text></g>
<g id="r3k" transform="translate(856.700 302.700)"><circle r="4"/><text y="1">NPS</text></g>
<g id="r3l" transform="translate(937.300 302.700)"><circle r="4"/><text y="1">NPS</text></g>
<g id="r4a" transform="translate(71 314.300)"><circle r="4"/><text y="1">NPS</text></g>
<g id="r4b" transform="translate(151 314.300)"><circle r="4"/><text y="1">NPS</text></g>
<g id="r4c" transform="translate(230 314.300)"><circle r="4"/><text y="1">NPS</text></g>
<g id="r4d" transform="translate(310 314.300)"><circle r="4"/><text y="1">NPS</text></g>
<g id="r4e" transform="translate(390 314.300)"><circle r="4"/><text y="1">NPS</text></g>
<g id="r4f" transform="translate(469 314.300)"><circle r="4"/><text y="1">NPS</text></g>
<g id="r4g" transform="translate(549 314.300)"><circle r="4"/><text y="1">NPS</text></g>
<g id="r4h" transform="translate(637.500 314.300)"><circle r="4"/><text y="1">NPS</text></g>
<g id="r4i" transform="translate(717.500 314.300)"><circle r="4"/><text y="1">NPS</text></g>
<g id="r4j" transform="translate(796.500 314.300)"><circle r="4"/><text y="1">NPS</text></g>
<g id="r4k" transform="translate(876.700 314.300)"><circle r="4"/><text y="1">NPS</text></g>
<g id="r4l" transform="translate(957 314.300)"><circle r="4"/><text y="1">NPS</text></g>
</svg>
